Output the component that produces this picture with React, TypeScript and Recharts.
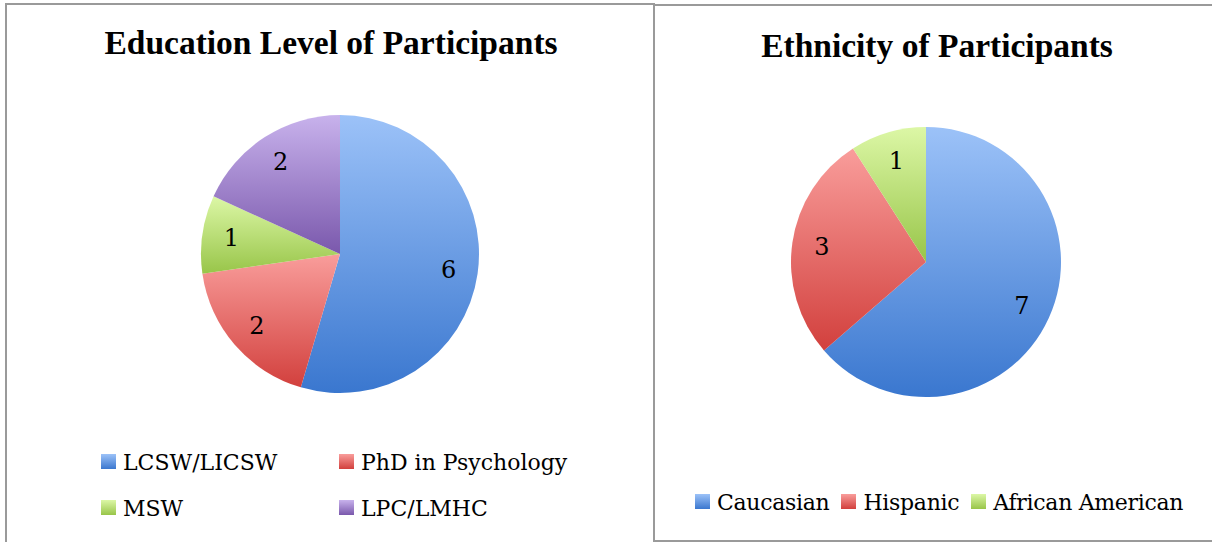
import { PieChart, Pie, Cell, Legend } from "recharts"

const educationLabels = ["LCSW/LICSW", "PhD in Psychology", "MSW", "LPC/LMHC"]
const educationCounts = [6, 2, 1, 2]

const ethnicityLabels = ["Caucasian", "Hispanic", "African American"]
const ethnicityCounts = [7, 3, 1]

// light -> dark, top to bottom, like the office gradient fills
const blue = ["#9cc2f8", "#3a77cf"]
const red = ["#f99d9b", "#d2403d"]
const green = ["#dcf7a6", "#98c549"]
const purple = ["#c8b2ec", "#7a58ac"]

const educationColors = [blue, red, green, purple]
const ethnicityColors = [blue, red, green]

const educationData = educationLabels.map((name, i) => ({ name, value: educationCounts[i] }))
const ethnicityData = ethnicityLabels.map((name, i) => ({ name, value: ethnicityCounts[i] }))

const TITLE_FONT = '"Liberation Serif", serif'
const FONT = '"DejaVu Serif", serif'
const RAD = Math.PI / 180
const noMargin = { top: 0, right: 0, bottom: 0, left: 0 }

const Gradients = ({ prefix, colors }: any) => (
  <defs>
    {colors.map((c: string[], i: number) => (
      <linearGradient key={i} id={`${prefix}-${i}`} x1="0" y1="0" x2="0" y2="1">
        <stop offset="0%" stopColor={c[0]} />
        <stop offset="100%" stopColor={c[1]} />
      </linearGradient>
    ))}
  </defs>
)

const makeLabel = (factor: number) => (props: any) => {
  const { cx, cy, midAngle, outerRadius, value } = props
  const r = outerRadius * factor
  const x = cx + r * Math.cos(-midAngle * RAD)
  const y = cy + r * Math.sin(-midAngle * RAD)
  return (
    <text x={x} y={y} fill="#000" textAnchor="middle" dominantBaseline="central" fontFamily={FONT} fontSize={24}>
      {value}
    </text>
  )
}

const Swatch = ({ c }: any) => (
  <span
    style={{
      display: "inline-block",
      width: 15,
      height: 15,
      background: `linear-gradient(${c[0]}, ${c[1]})`,
      marginRight: 7,
      marginBottom: 1,
      verticalAlign: "baseline",
    }}
  />
)

const EducationLegend = () => (
  <div style={{ fontFamily: FONT, fontSize: 22, color: "#000", lineHeight: "26px" }}>
    {educationLabels.map((name, i) => (
      <div
        key={name}
        style={{ position: "absolute", left: i % 2 === 0 ? 0 : 238, top: i < 2 ? 0 : 46, whiteSpace: "nowrap" }}
      >
        <Swatch c={educationColors[i]} />
        {name}
      </div>
    ))}
  </div>
)

const EthnicityLegend = () => (
  <div style={{ fontFamily: FONT, fontSize: 22, color: "#000", lineHeight: "26px", whiteSpace: "nowrap", letterSpacing: -0.3 }}>
    {ethnicityLabels.map((name, i) => (
      <span key={name} style={{ marginRight: 12 }}>
        <Swatch c={ethnicityColors[i]} />
        {name}
      </span>
    ))}
  </div>
)

const titleStyle = {
  position: "absolute" as const,
  textAlign: "center" as const,
  fontFamily: TITLE_FONT,
  fontWeight: "bold" as const,
  fontSize: 33.5,
  lineHeight: "38px",
  whiteSpace: "nowrap" as const,
}

export default function App() {
  return (
    <div style={{ position: "absolute", left: 0, top: 0, width: 1212, height: 542, background: "#fff", overflow: "hidden" }}>
      {/* left panel */}
      <div style={{ position: "absolute", left: 5, top: 3, width: 646, height: 560, border: "2px solid #9a9a9a" }} />
      <div style={{ ...titleStyle, left: 0, top: 24, width: 662 }}>Education Level of Participants</div>
      <div style={{ position: "absolute", left: 0, top: 0 }}>
        <PieChart width={653} height={542} margin={noMargin}>
          <Gradients prefix="edu" colors={educationColors} />
          <Pie
            data={educationData}
            dataKey="value"
            nameKey="name"
            cx={340}
            cy={254}
            outerRadius={139}
            startAngle={90}
            endAngle={-270}
            stroke="none"
            label={makeLabel(0.79)}
            labelLine={false}
            isAnimationActive={false}
          >
            {educationData.map((d, i) => (
              <Cell key={d.name} fill={`url(#edu-${i})`} />
            ))}
          </Pie>
          <Legend
            content={<EducationLegend />}
            wrapperStyle={{ position: "absolute", left: 101, top: 450, width: 520, height: 80 }}
          />
        </PieChart>
      </div>

      {/* right panel */}
      <div
        style={{
          position: "absolute",
          left: 653,
          top: 4,
          width: 600,
          height: 534,
          border: "2px solid #9a9a9a",
          background: "#fff",
        }}
      />
      <div style={{ ...titleStyle, left: 655, top: 27, width: 564 }}>Ethnicity of Participants</div>
      <div style={{ position: "absolute", left: 655, top: 6 }}>
        <PieChart width={557} height={534} margin={noMargin}>
          <Gradients prefix="eth" colors={ethnicityColors} />
          <Pie
            data={ethnicityData}
            dataKey="value"
            nameKey="name"
            cx={271}
            cy={256}
            outerRadius={135}
            startAngle={90}
            endAngle={-270}
            stroke="none"
            label={makeLabel(0.78)}
            labelLine={false}
            isAnimationActive={false}
          >
            {ethnicityData.map((d, i) => (
              <Cell key={d.name} fill={`url(#eth-${i})`} />
            ))}
          </Pie>
          <Legend
            content={<EthnicityLegend />}
            wrapperStyle={{ position: "absolute", left: 40, top: 484, width: 520, height: 30 }}
          />
        </PieChart>
      </div>
    </div>
  )
}
